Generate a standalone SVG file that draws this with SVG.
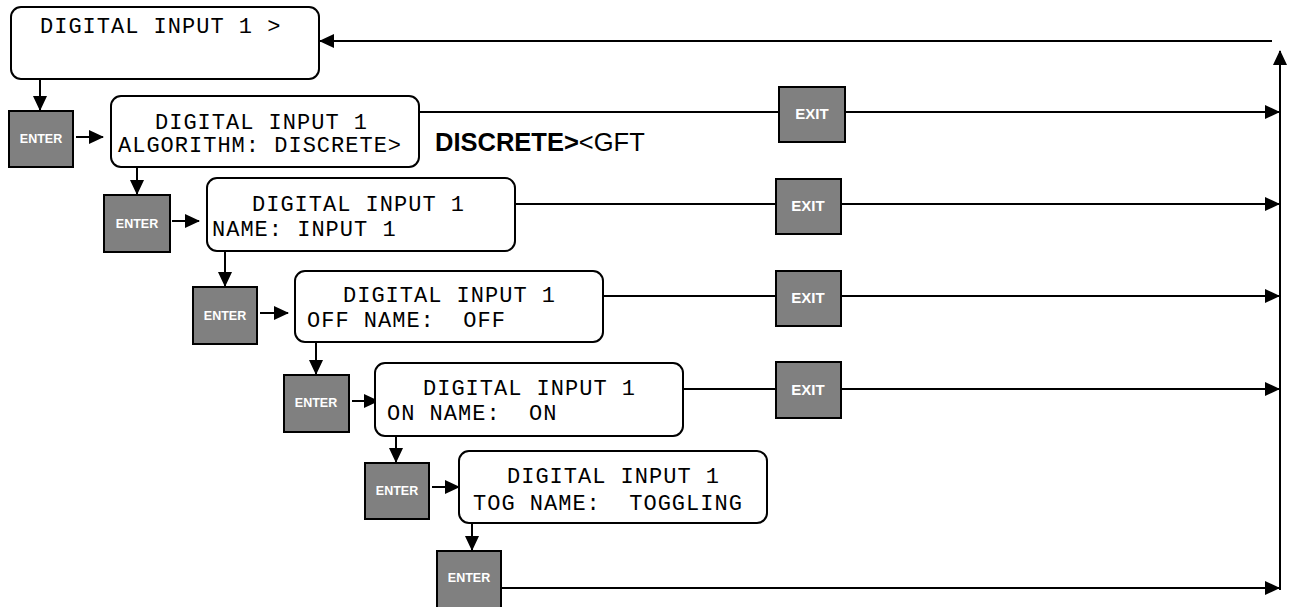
<svg xmlns="http://www.w3.org/2000/svg" width="1296" height="607" viewBox="0 0 1296 607">
<style>
.box{fill:#fff;stroke:#000;stroke-width:2}
.btn{fill:#808080;stroke:#000;stroke-width:2}
.mono{font-family:"Liberation Mono","Courier New",monospace;font-size:22px;fill:#000;white-space:pre;letter-spacing:1px}
.bt{font-family:"Liberation Sans",Arial,sans-serif;font-weight:bold;fill:#fff;text-anchor:middle}
.en{font-size:12.5px}
.ex{font-size:15px}
.ln{stroke:#000;stroke-width:2;fill:none}
</style>
<defs>
<marker id="ah" markerUnits="userSpaceOnUse" markerWidth="15" markerHeight="14" refX="14" refY="7" orient="auto">
<path d="M0,0 L15,7 L0,14 Z" fill="#000"/>
</marker>
</defs>
<g id="connectors">
<line class="ln" x1="1272" y1="41" x2="320" y2="41" marker-end="url(#ah)"/>
<line class="ln" x1="1280" y1="590" x2="1280" y2="51" marker-end="url(#ah)"/>
<line class="ln" x1="40" y1="79" x2="40" y2="110" marker-end="url(#ah)"/>
<line class="ln" x1="76" y1="137" x2="103" y2="137" marker-end="url(#ah)"/>
<line class="ln" x1="420" y1="112" x2="779" y2="112"/>
<line class="ln" x1="845" y1="112" x2="1279" y2="112" marker-end="url(#ah)"/>
<line class="ln" x1="137" y1="167" x2="137" y2="194" marker-end="url(#ah)"/>
<line class="ln" x1="172" y1="221" x2="199" y2="221" marker-end="url(#ah)"/>
<line class="ln" x1="516" y1="204" x2="776" y2="204"/>
<line class="ln" x1="841" y1="204" x2="1279" y2="204" marker-end="url(#ah)"/>
<line class="ln" x1="225" y1="251" x2="225" y2="286" marker-end="url(#ah)"/>
<line class="ln" x1="260" y1="313" x2="288" y2="313" marker-end="url(#ah)"/>
<line class="ln" x1="604" y1="296" x2="776" y2="296"/>
<line class="ln" x1="841" y1="296" x2="1279" y2="296" marker-end="url(#ah)"/>
<line class="ln" x1="316" y1="343" x2="316" y2="374" marker-end="url(#ah)"/>
<line class="ln" x1="352" y1="401" x2="378" y2="401" marker-end="url(#ah)"/>
<line class="ln" x1="684" y1="389" x2="776" y2="389"/>
<line class="ln" x1="841" y1="389" x2="1279" y2="389" marker-end="url(#ah)"/>
<line class="ln" x1="396" y1="436" x2="396" y2="462" marker-end="url(#ah)"/>
<line class="ln" x1="432" y1="487" x2="459" y2="487" marker-end="url(#ah)"/>
<line class="ln" x1="472" y1="518" x2="472" y2="550" marker-end="url(#ah)"/>
<line class="ln" x1="501" y1="588" x2="1279" y2="588" marker-end="url(#ah)"/>
</g>
<g id="n1"><rect class="box" x="11" y="7" width="308" height="72" rx="10"/><text class="mono" x="40" y="33">DIGITAL INPUT 1 &gt;</text></g>
<g id="enter1"><rect class="btn" x="9" y="111" width="64" height="56"/><text class="bt en" x="41" y="143">ENTER</text></g>
<g id="n2"><rect class="box" x="111" y="96" width="308" height="71" rx="10"/><text class="mono" x="155" y="129">DIGITAL INPUT 1</text><text class="mono" x="118" y="152">ALGORITHM: DISCRETE&gt;</text></g>
<g id="opt"><text x="435" y="151" font-family="'Liberation Sans',Arial,sans-serif" font-size="25.5"><tspan font-weight="bold">DISCRETE&gt;</tspan>&lt;GFT</text></g>
<g id="exit1"><rect class="btn" x="779" y="87" width="66" height="55"/><text class="bt ex" x="812" y="119">EXIT</text></g>
<g id="enter2"><rect class="btn" x="104" y="195" width="66" height="57"/><text class="bt en" x="137" y="228">ENTER</text></g>
<g id="n3"><rect class="box" x="207" y="178" width="308" height="73" rx="10"/><text class="mono" x="252" y="211">DIGITAL INPUT 1</text><text class="mono" x="212" y="236">NAME: INPUT 1</text></g>
<g id="exit2"><rect class="btn" x="776" y="179" width="65" height="55"/><text class="bt ex" x="808" y="211">EXIT</text></g>
<g id="enter3"><rect class="btn" x="193" y="287" width="64" height="57"/><text class="bt en" x="225" y="320">ENTER</text></g>
<g id="n4"><rect class="box" x="295" y="271" width="308" height="71" rx="10"/><text class="mono" x="343" y="302">DIGITAL INPUT 1</text><text class="mono" x="307" y="327">OFF NAME:  OFF</text></g>
<g id="exit3"><rect class="btn" x="776" y="271" width="65" height="55"/><text class="bt ex" x="808" y="303">EXIT</text></g>
<g id="enter4"><rect class="btn" x="284" y="375" width="65" height="57"/><text class="bt en" x="316" y="407">ENTER</text></g>
<g id="n5"><rect class="box" x="375" y="363" width="308" height="73" rx="10"/><text class="mono" x="423" y="395">DIGITAL INPUT 1</text><text class="mono" x="387" y="420">ON NAME:  ON</text></g>
<g id="exit4"><rect class="btn" x="776" y="362" width="65" height="56"/><text class="bt ex" x="808" y="395">EXIT</text></g>
<g id="enter5"><rect class="btn" x="365" y="463" width="64" height="56"/><text class="bt en" x="397" y="495">ENTER</text></g>
<g id="n6"><rect class="box" x="459" y="451" width="308" height="72" rx="10"/><text class="mono" x="507" y="483">DIGITAL INPUT 1</text><text class="mono" x="473" y="510">TOG NAME:  TOGGLING</text></g>
<g id="enter6"><rect class="btn" x="437" y="551" width="64" height="60"/><text class="bt en" x="469" y="582">ENTER</text></g>
</svg>
